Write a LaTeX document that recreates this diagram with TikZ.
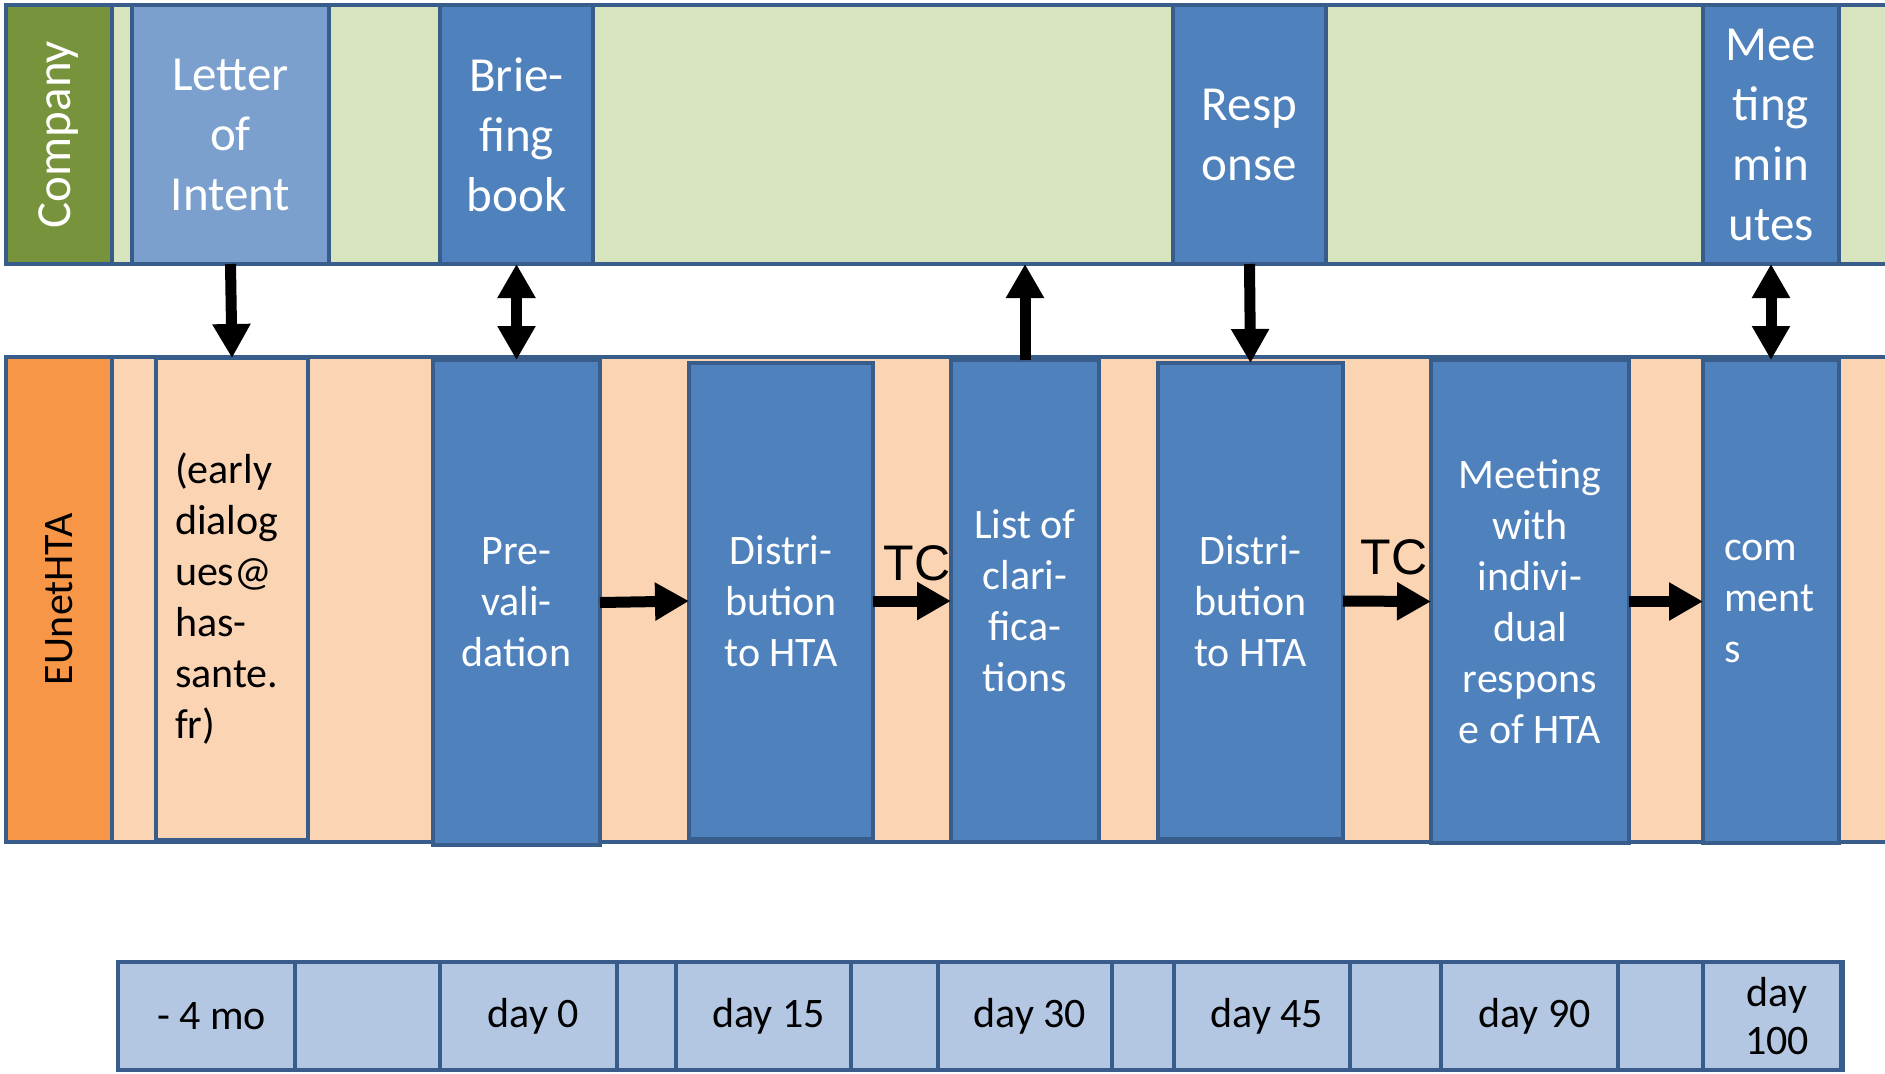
\documentclass[tikz,border=0pt]{standalone}
\usepackage{fontspec}
\setmainfont{Carlito}
\newfontfamily\arialfont{Liberation Sans}
\usetikzlibrary{arrows.meta,fit}
\definecolor{edge}{HTML}{385D8A}
\definecolor{cgreen}{HTML}{77933C}
\definecolor{lgreen}{HTML}{D7E4BD}
\definecolor{lblue}{HTML}{7BA0CD}
\definecolor{mblue}{HTML}{4F81BD}
\definecolor{orng}{HTML}{F79646}
\definecolor{peach}{HTML}{FBD4B4}
\definecolor{tlblue}{HTML}{B3C7E3}
\begin{document}
\begin{tikzpicture}[x=0.5pt,y=-0.5pt,
  every node/.style={inner sep=0pt, outer sep=0pt},
  panel/.style={draw=edge, line width=2.2pt, fill=#1},
  bigtxt/.style={font=\fontsize{24.5}{30}\selectfont, text=white, align=center},
  midtxt/.style={font=\fontsize{21}{25.5}\selectfont, text=white, align=center},
  tltxt/.style={font=\fontsize{21}{24}\selectfont, text=black, align=center, xshift=2.5pt},
  tctxt/.style={font=\arialfont\fontsize{25}{30}\selectfont, text=black},
  arrowone/.style={line width=5.5pt, -{Triangle[width=18pt,length=17pt]}},
  arrowtwo/.style={line width=5.5pt, {Triangle[width=18pt,length=17pt]}-{Triangle[width=18pt,length=17pt]}},
]
\clip (0,0) rectangle (1885,1073);
\fill[white] (0,0) rectangle (1885,1073);

% ---------- Company band ----------
\node[panel=lgreen, fit={(6,5)(1900,264)}] (companyband) {};
\node[panel=cgreen, fit={(6,5)(112,264)}] (company) {};
\node[panel=lblue, fit={(132,5)(329,264)}] (letter) {};
\node[panel=mblue, fit={(440,5)(593,264)}] (brie) {};
\node[panel=mblue, fit={(1173,5)(1326,264)}] (resp) {};
\node[panel=mblue, fit={(1703,5)(1839,264)}] (minutes) {};

\node[bigtxt, rotate=90] (companyT) at (company) {Company};
\node[bigtxt] (letterT) at (letter) {Letter\\of\\Intent};
\node[bigtxt] (brieT) at (brie) {Brie-\\fing\\book};
\node[bigtxt] (respT) at (resp) {Resp\\onse};
\node[bigtxt] (minutesT) at (minutes) {Mee\\ting\\min\\utes};

% ---------- EUnetHTA band ----------
\node[panel=peach, fit={(6,357)(1900,842)}] (euband) {};
\node[panel=orng, fit={(6,357)(112,842)}] (euhta) {};
\node[panel=peach, fit={(156,358)(308,840)}] (early) {};
\node[panel=mblue, fit={(433,360)(600,845)}] (preval) {};
\node[panel=mblue, fit={(689,363)(873,839)}] (distri1) {};
\node[panel=mblue, fit={(951,360)(1099,842)}] (list) {};
\node[panel=mblue, fit={(1158,363)(1343,839)}] (distri2) {};
\node[panel=mblue, fit={(1431,360)(1629,843)}] (meeting) {};
\node[panel=mblue, fit={(1703,360)(1839,843)}] (comments) {};

\node[midtxt, text=black, rotate=90] (euhtaT) at (euhta) {EUnetHTA};
\node[midtxt, text=black, align=left, anchor=west] (earlyT) at ([xshift=9.5pt]early.west) {(early\\dialog\\ues@\\has-\\sante.\\fr)};
\node[midtxt] (prevalT) at (preval) {Pre-\\vali-\\dation};
\node[midtxt] (distri1T) at (distri1) {Distri-\\bution\\to HTA};
\node[midtxt] (listT) at (list) {List of\\clari-\\fica-\\tions};
\node[midtxt] (distri2T) at (distri2) {Distri-\\bution\\to HTA};
\node[midtxt] (meetingT) at (meeting) {Meeting\\with\\indivi-\\dual\\respons\\e of HTA};
\node[midtxt, align=left, anchor=west] (commentsT) at ([xshift=10.5pt]comments.west) {com\\ment\\s};

% ---------- connectors ----------
\draw[arrowone] (letter.south) -- (early.north);
\draw[arrowtwo] (brie.south) -- (preval.north);
\draw[arrowone] (list.north) -- (list.north |- companyband.south);
\draw[arrowone] (resp.south) -- (distri2.north);
\draw[arrowtwo] (minutes.south) -- (comments.north);

\draw[arrowone] (preval.east) -- (distri1.west);
\draw[arrowone] (distri1.east) -- (list.west);
\draw[arrowone] (distri2.east) -- (meeting.west);
\draw[arrowone] (meeting.east) -- (comments.west);

\node[tctxt] (tc1) at (917,563) {TC};
\node[tctxt] (tc2) at (1394,557) {TC};

% ---------- timeline ----------
\node[panel=tlblue, fit={(118,962)(1843,1070)}] (timeline) {};
\node[panel=tlblue, fit={(118,962)(295,1070)}] (t1) {};
\node[panel=tlblue, fit={(440,962)(617,1070)}] (t2) {};
\node[panel=tlblue, fit={(676,962)(851,1070)}] (t3) {};
\node[panel=tlblue, fit={(938,962)(1112,1070)}] (t4) {};
\node[panel=tlblue, fit={(1174,962)(1350,1070)}] (t5) {};
\node[panel=tlblue, fit={(1441,962)(1618,1070)}] (t6) {};
\node[panel=tlblue, fit={(1703,962)(1841,1070)}] (t7) {};

\node[tltxt] (t1T) at (t1) {- 4 mo};
\node[tltxt] (t2T) at (t2) {day 0};
\node[tltxt] (t3T) at (t3) {day 15};
\node[tltxt] (t4T) at (t4) {day 30};
\node[tltxt] (t5T) at (t5) {day 45};
\node[tltxt] (t6T) at (t6) {day 90};
\node[tltxt] (t7T) at (t7) {day\\100};
\end{tikzpicture}
\end{document}
